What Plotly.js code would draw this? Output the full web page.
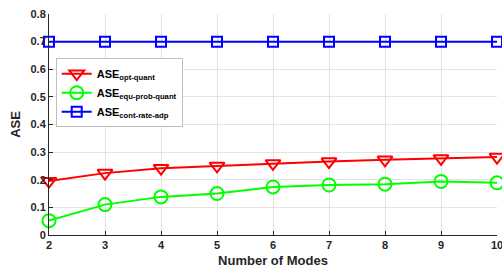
<!DOCTYPE html>
<html><head><meta charset="utf-8">
<script src="https://cdn.plot.ly/plotly-3.0.1.min.js"></script>
<style>html,body{margin:0;padding:0;background:#fff}#c{width:502px;height:268px}</style>
</head><body><div id="c"></div>
<script>
const modes = [2, 3, 4, 5, 6, 7, 8, 9, 10];
const optQuant = [0.195, 0.224, 0.242, 0.250, 0.259, 0.266, 0.272, 0.277, 0.282];
const equProbQuant = [0.052, 0.110, 0.138, 0.150, 0.174, 0.181, 0.184, 0.194, 0.189];
const contRateAdp = [0.70, 0.70, 0.70, 0.70, 0.70, 0.70, 0.70, 0.70, 0.70];
const names = ['ASE<sub>opt-quant</sub>', 'ASE<sub>equ-prob-quant</sub>', 'ASE<sub>cont-rate-adp</sub>'];
const xTicks = [2, 3, 4, 5, 6, 7, 8, 9, 10];
const yTicks = [0, 0.1, 0.2, 0.3, 0.4, 0.5, 0.6, 0.7, 0.8];

const fam = 'Liberation Sans, Arial, sans-serif';
const font = {family: fam, size: 11, color: '#262626', weight: 'bold'};
const traces = [
  {x: modes, y: optQuant, name: names[0], mode: 'lines+markers', cliponaxis: false,
   line: {color: '#ff0000', width: 2}, marker: {symbol: 'triangle-down-open', size: 13, color: '#ff0000', line: {width: 2}}},
  {x: modes, y: equProbQuant, name: names[1], mode: 'lines+markers', cliponaxis: false,
   line: {color: '#00ff00', width: 2}, marker: {symbol: 'circle-open', size: 13, color: '#00ff00', line: {width: 2}}},
  {x: modes, y: contRateAdp, name: names[2], mode: 'lines+markers', cliponaxis: false,
   line: {color: '#0000ff', width: 2}, marker: {symbol: 'square-open', size: 10, color: '#0000ff', line: {width: 2}}}
];
const layout = {
  width: 502, height: 268,
  margin: {l: 49, r: 5, t: 14, b: 33},
  paper_bgcolor: '#fff', plot_bgcolor: '#fff',
  font: font,
  showlegend: true,
  legend: {x: 0.015, y: 0.80, xanchor: 'left', yanchor: 'top', bgcolor: '#fff',
           bordercolor: '#bfbfbf', borderwidth: 1, font: {family: fam, size: 11, color: '#000', weight: 'bold'},
           tracegroupgap: 0, itemwidth: 30, entrywidth: 0},
  xaxis: {range: [2, 10], tickvals: xTicks, ticks: 'inside', ticklen: 4, tickcolor: '#262626',
          ticklabeloverflow: 'allow',
          showline: true, linecolor: '#262626', linewidth: 1, showgrid: true, gridcolor: '#e3e3e3', zeroline: false,
          tickfont: font, title: {text: 'Number of Modes', font: {family: fam, size: 13, color: '#262626', weight: 'bold'}, standoff: 6}},
  yaxis: {range: [0, 0.8], tickvals: yTicks, ticktext: yTicks.map(v => v === 0 ? '0' : v.toFixed(1)),
          ticks: 'inside', ticklen: 4, tickcolor: '#262626',
          showline: true, linecolor: '#262626', linewidth: 1, showgrid: true, gridcolor: '#e3e3e3', zeroline: false,
          tickfont: font, title: {text: 'ASE', font: {family: fam, size: 13, color: '#262626', weight: 'bold'}, standoff: 6}}
};
Plotly.newPlot('c', traces, layout, {displayModeBar: false, staticPlot: true});
</script></body></html>
